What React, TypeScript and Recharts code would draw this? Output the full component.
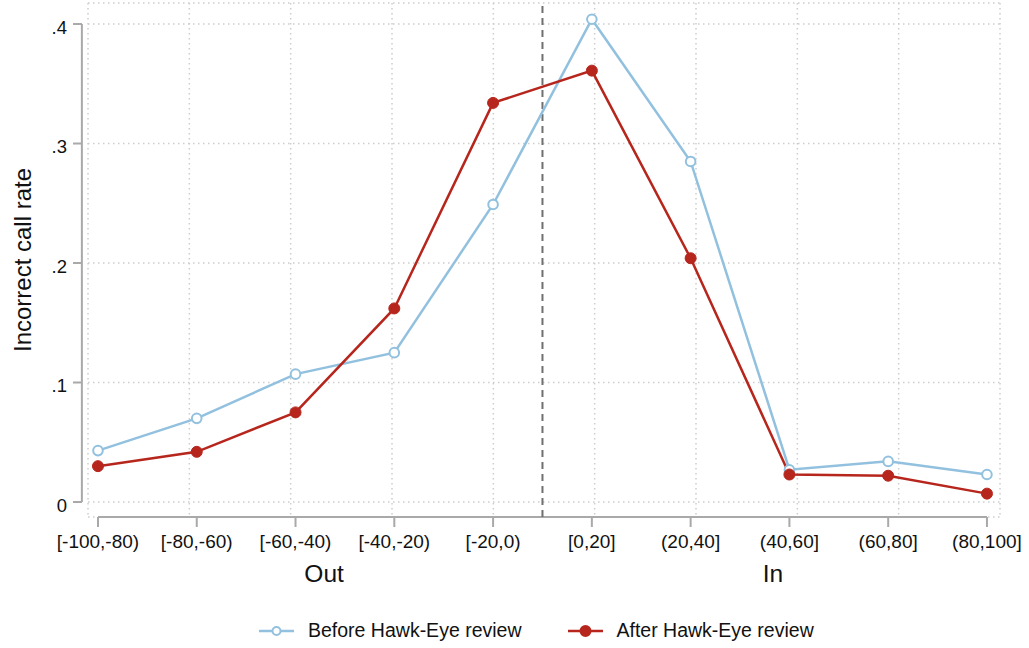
import React from 'react'
import {
  LineChart,
  Line,
  XAxis,
  YAxis,
  CartesianGrid,
  ReferenceLine,
} from 'recharts'

// distance bins (mm from the line), left half = ball out, right half = ball in
const CATEGORIES = [
  '[-100,-80)',
  '[-80,-60)',
  '[-60,-40)',
  '[-40,-20)',
  '[-20,0)',
  '[0,20]',
  '(20,40]',
  '(40,60]',
  '(60,80]',
  '(80,100]',
]
const BEFORE = [0.043, 0.07, 0.107, 0.125, 0.249, 0.404, 0.285, 0.027, 0.034, 0.023]
const AFTER = [0.03, 0.042, 0.075, 0.162, 0.334, 0.361, 0.204, 0.023, 0.022, 0.007]

const Y_TICKS = [0, 0.1, 0.2, 0.3, 0.4]
const Y_TICK_LABELS = ['0', '.1', '.2', '.3', '.4']

const GROUP_LABELS = ['Out', 'In']
const GROUP_POS = [2.33, 6.76]
const CUTOFF = 4.5

const SERIES_NAMES = ['Before Hawk-Eye review', 'After Hawk-Eye review']

const BLUE = '#92c1df'
const RED = '#b7261d'
const AXIS_GREY = '#a9a9a9'
const FONT = "'Liberation Sans', Arial, Helvetica, sans-serif"

// plot range (a bit of air around the data like the Stata graph)
const X_MIN = -0.101
const X_MAX = 9.132
const Y_MIN = -0.01255
const Y_MAX = 0.4176

const data = CATEGORIES.map((range, i) => ({
  idx: i,
  range,
  before: BEFORE[i],
  after: AFTER[i],
}))

function YTick({ x, y, payload }: any) {
  const i = Y_TICKS.indexOf(payload.value)
  return (
    <g>
      <line x1={x - 15} x2={x - 6} y1={y} y2={y} stroke={AXIS_GREY} strokeWidth={2} />
      <text
        x={x - 21}
        y={y + 3}
        textAnchor="end"
        dominantBaseline="central"
        fontSize={18.5}
        fontFamily={FONT}
        fill="#111"
      >
        {Y_TICK_LABELS[i]}
      </text>
    </g>
  )
}

function YTitle({ viewBox }: any) {
  const cx = viewBox.x + 14
  const cy = viewBox.y + viewBox.height / 2
  return (
    <text
      x={cx}
      y={cy}
      transform={`rotate(-90, ${cx}, ${cy})`}
      textAnchor="middle"
      dominantBaseline="central"
      fontSize={24}
      fontFamily={FONT}
      fill="#111"
    >
      Incorrect call rate
    </text>
  )
}

function LegendIcon({ color, hollow }: { color: string; hollow: boolean }) {
  return (
    <svg width={35} height={14} style={{ display: 'block' }}>
      <line x1={0} x2={35} y1={7} y2={7} stroke={color} strokeWidth={2.5} />
      <circle
        cx={17.5}
        cy={7}
        r={hollow ? 4 : 5}
        fill={hollow ? '#fff' : color}
        stroke={color}
        strokeWidth={2}
      />
    </svg>
  )
}

export default function App() {
  return (
    <div style={{ position: 'relative', width: 1029, height: 648, background: '#fff' }}>
      <style>{'body{margin:0}'}</style>
      <LineChart
        width={1029}
        height={648}
        data={data}
        margin={{ top: 3, right: 29, left: 8, bottom: 43 }}
      >
        <CartesianGrid stroke="#cdcdcd" strokeDasharray="1.5 3.5" strokeWidth={1.5} />
        <XAxis
          xAxisId="bins"
          type="number"
          dataKey="idx"
          domain={[X_MIN, X_MAX]}
          allowDataOverflow
          ticks={CATEGORIES.map((_, i) => i)}
          tickFormatter={(i: number) => CATEGORIES[i]}
          interval={0}
          height={48}
          axisLine={false}
          tickLine={{ stroke: AXIS_GREY, strokeWidth: 2 }}
          tickSize={10}
          tickMargin={8}
          tick={{ fontSize: 19, fontFamily: FONT, fill: '#111' }}
        />
        <XAxis
          xAxisId="groups"
          type="number"
          domain={[X_MIN, X_MAX]}
          allowDataOverflow
          ticks={GROUP_POS}
          tickFormatter={(v: number) => GROUP_LABELS[GROUP_POS.indexOf(v)]}
          interval={0}
          height={40}
          axisLine={false}
          tickLine={false}
          tickSize={0}
          tickMargin={0}
          tick={{ fontSize: 24.5, fontFamily: FONT, fill: '#111' }}
        />
        <YAxis
          type="number"
          domain={[Y_MIN, Y_MAX]}
          allowDataOverflow
          ticks={Y_TICKS}
          width={80}
          axisLine={false}
          tickLine={false}
          tickSize={0}
          tickMargin={0}
          tick={<YTick />}
          label={<YTitle />}
        />
        {/* Stata-style axis lines that only span the tick range */}
        <ReferenceLine
          xAxisId="bins"
          segment={[
            { x: 0, y: Y_MIN },
            { x: CATEGORIES.length - 1, y: Y_MIN },
          ]}
          stroke={AXIS_GREY}
          strokeWidth={2}
          ifOverflow="visible"
        />
        <ReferenceLine
          xAxisId="bins"
          segment={[
            { x: X_MIN - 0.062, y: 0 },
            { x: X_MIN - 0.062, y: Y_TICKS[Y_TICKS.length - 1] },
          ]}
          stroke={AXIS_GREY}
          strokeWidth={2}
          ifOverflow="visible"
        />
        <ReferenceLine
          xAxisId="bins"
          x={CUTOFF}
          stroke="#707070"
          strokeWidth={2}
          strokeDasharray="7 5"
        />
        <Line
          xAxisId="bins"
          dataKey="before"
          name={SERIES_NAMES[0]}
          stroke={BLUE}
          strokeWidth={2.5}
          dot={{ r: 4.8, fill: '#fff', stroke: BLUE, strokeWidth: 2 }}
          activeDot={false}
          isAnimationActive={false}
        />
        <Line
          xAxisId="bins"
          dataKey="after"
          name={SERIES_NAMES[1]}
          stroke={RED}
          strokeWidth={2.5}
          dot={{ r: 5.5, fill: RED, stroke: RED, strokeWidth: 1 }}
          activeDot={false}
          isAnimationActive={false}
        />
      </LineChart>
      <div
        style={{
          position: 'absolute',
          left: 259,
          top: 619,
          display: 'flex',
          alignItems: 'center',
          fontFamily: FONT,
          fontSize: 19.5,
          color: '#111',
        }}
      >
        <LegendIcon color={BLUE} hollow />
        <span style={{ marginLeft: 14, marginRight: 46 }}>{SERIES_NAMES[0]}</span>
        <LegendIcon color={RED} hollow={false} />
        <span style={{ marginLeft: 14 }}>{SERIES_NAMES[1]}</span>
      </div>
    </div>
  )
}
